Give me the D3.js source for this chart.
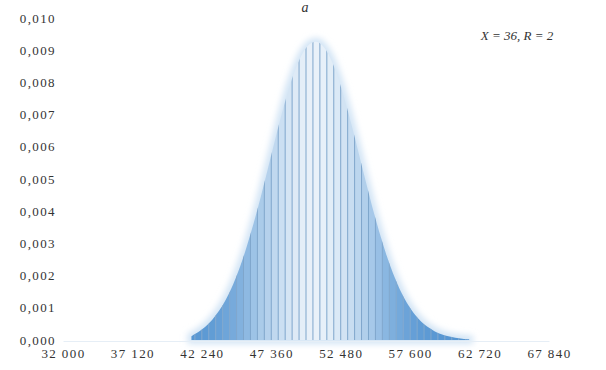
<!DOCTYPE html>
<html>
<head>
<meta charset="utf-8">
<script src="https://cdnjs.cloudflare.com/ajax/libs/d3/7.8.5/d3.min.js"></script>
<style>
  body { margin: 0; background: #fff; }
  text { font-family: "Liberation Serif", "DejaVu Serif", serif; fill: #333; }
</style>
</head>
<body>
<svg id="chart"></svg>
<script>
// bins of width 512, starting at 41216
const binStart = 41216;
const binWidth = 512;
const values = [
  0.00012, 0.00024, 0.00040, 0.00062, 0.00090, 0.00126, 0.00171, 0.00226,
  0.00291, 0.00364, 0.00445, 0.00531, 0.00618, 0.00703, 0.00780, 0.00845,
  0.00893, 0.00922, 0.00930, 0.00915, 0.00879, 0.00824, 0.00754, 0.00674,
  0.00588, 0.00501, 0.00416, 0.00338, 0.00268, 0.00207, 0.00156, 0.00115,
  0.00083, 0.00058, 0.00040, 0.00027, 0.00017, 0.00011, 0.00007, 0.00004,
  0.00002
];
const xTicks = [32000, 37120, 42240, 47360, 52480, 57600, 62720, 67840];
const yTicks = [0, 0.001, 0.002, 0.003, 0.004, 0.005, 0.006, 0.007, 0.008, 0.009, 0.010];
const title = 'a';
const note = 'X = 36, R = 2';

const width = 606, height = 370;
const svg = d3.select('#chart').attr('width', width).attr('height', height);

const x = d3.scaleLinear().domain([32000, 67840]).range([63, 549]);
const y = d3.scaleLinear().domain([0, 0.010]).range([340, 18]);

const fmtY = (d) => d3.format('.3f')(d).replace('.', ',');
const fmtX = (d) => d3.format(',')(d).replace(',', ' ');

const color = d3.scaleLinear()
  .domain([0, 0.004, 0.0093])
  .range(['#5595d2', '#a4c7e8', '#e9f1f9']);

const data = values.map((v, i) => ({ x0: binStart + i * binWidth, v }));
const bw = x(binStart + binWidth) - x(binStart);

const defs = svg.append('defs');
defs.append('filter').attr('id', 'blur')
  .append('feGaussianBlur').attr('stdDeviation', 3);

// smooth outline through bar tops
const area = d3.area()
  .x((d) => x(d.x0 + binWidth / 2))
  .y0(y(0))
  .y1((d) => y(d.v))
  .curve(d3.curveBasis);

svg.append('path')
  .datum(data)
  .attr('d', area)
  .attr('fill', '#dceaf7')
  .attr('stroke', '#d2e4f5')
  .attr('stroke-width', 8)
  .attr('filter', 'url(#blur)');

const clip = defs.append('clipPath').attr('id', 'clip');
clip.append('path').datum(data).attr('d', area);

const bars = svg.append('g').attr('clip-path', 'url(#clip)');

bars.selectAll('rect')
  .data(data)
  .enter().append('rect')
  .attr('x', (d) => x(d.x0))
  .attr('y', (d) => y(d.v) - 20)
  .attr('width', bw)
  .attr('height', (d) => y(0) - y(d.v) + 20)
  .attr('fill', (d) => color(d.v));

bars.selectAll('line')
  .data(data)
  .enter().append('line')
  .attr('x1', (d) => x(d.x0))
  .attr('x2', (d) => x(d.x0))
  .attr('y1', (d) => y(d.v) - 20)
  .attr('y2', y(0))
  .attr('stroke', '#7fa6cc')
  .attr('stroke-width', 1);

// y axis labels
const axisY = d3.axisLeft(y).tickValues(yTicks).tickFormat(fmtY).tickSize(0).tickPadding(0);
svg.append('g')
  .attr('transform', 'translate(56, 0)')
  .call(axisY)
  .call((g) => g.select('.domain').remove())
  .call((g) => g.selectAll('text')
    .style('font-size', '13px')
    .style('letter-spacing', '1.4px')
    .attr('fill', '#444'));

// x axis labels
const axisX = d3.axisBottom(x).tickValues(xTicks).tickFormat(fmtX).tickSize(0).tickPadding(0);
svg.append('g')
  .attr('transform', 'translate(0, 349)')
  .call(axisX)
  .call((g) => g.select('.domain').attr('stroke', '#e6eef6').attr('transform', 'translate(0,-8)'))
  .call((g) => g.selectAll('text')
    .style('font-size', '13px')
    .style('letter-spacing', '1.4px')
    .attr('fill', '#444'));

svg.append('text')
  .attr('x', 305).attr('y', 12)
  .attr('text-anchor', 'middle')
  .style('font-style', 'italic')
  .style('font-size', '14px')
  .text(title);

svg.append('text')
  .attr('x', 517).attr('y', 40)
  .attr('text-anchor', 'middle')
  .style('font-style', 'italic')
  .style('font-size', '13px')
  .text(note);
</script>
</body>
</html>
